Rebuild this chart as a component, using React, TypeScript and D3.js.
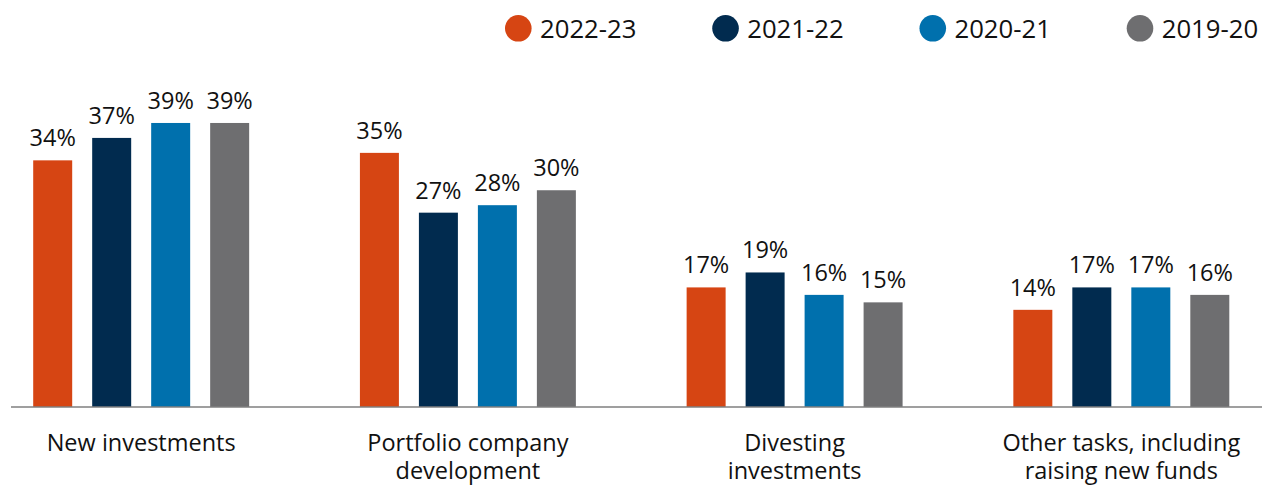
import React from "react";
import * as d3 from "d3";

const categories = [
  "New investments",
  "Portfolio company development",
  "Divesting investments",
  "Other tasks, including raising new funds",
];
const categoryLines = [
  ["New investments"],
  ["Portfolio company", "development"],
  ["Divesting", "investments"],
  ["Other tasks, including", "raising new funds"],
];
const seriesNames = ["2022-23", "2021-22", "2020-21", "2019-20"];
const seriesColors = ["#d64513", "#012b4f", "#0070ad", "#6e6e70"];
const v2022_23 = [34, 35, 17, 14];
const v2021_22 = [37, 27, 19, 17];
const v2020_21 = [39, 28, 16, 17];
const v2019_20 = [39, 30, 15, 16];
const seriesValues = [v2022_23, v2021_22, v2020_21, v2019_20];

const W = 1262;
const H = 489;
const FONT = "'Open Sans', 'Liberation Sans', Arial, sans-serif";

export default function App() {
  const baseY = 407;
  const y = d3.scaleLinear().domain([1, 40]).range([baseY, 115.5]);
  const x0 = d3
    .scaleBand<string>()
    .domain(categories)
    .range([33.2, 1229.3])
    .paddingInner(0.339)
    .paddingOuter(0);
  const x1 = d3
    .scaleBand<string>()
    .domain(seriesNames)
    .range([0, x0.bandwidth()])
    .paddingInner(0.339)
    .paddingOuter(0);
  const legendX = d3.scalePoint<string>().domain(seriesNames).range([518.3, 1140]);

  return (
    <svg
      width={W}
      height={H}
      style={{ position: "absolute", left: 0, top: 0, display: "block", background: "#fff" }}
      fontFamily={FONT}
    >
      {/* legend */}
      {seriesNames.map((s, i) => (
        <g key={s}>
          <circle cx={legendX(s)} cy={28.3} r={13.3} fill={seriesColors[i]} />
          <text x={(legendX(s) as number) + 21.7} y={38.3} fontSize={25.7} fill="#111">
            {s}
          </text>
        </g>
      ))}

      {/* bars */}
      {categories.map((c, ci) => (
        <g key={c} transform={`translate(${x0(c)},0)`}>
          {seriesNames.map((s, si) => {
            const v = seriesValues[si][ci];
            const top = y(v);
            const bx = x1(s) as number;
            return (
              <g key={s}>
                <rect x={bx} y={top} width={x1.bandwidth()} height={baseY - top} fill={seriesColors[si]} />
                <text
                  x={bx + x1.bandwidth() / 2}
                  y={top - 14}
                  textAnchor="middle"
                  fontSize={23.5}
                  fill="#111"
                >
                  {`${v}%`}
                </text>
              </g>
            );
          })}
        </g>
      ))}

      {/* axis */}
      <line x1={11} x2={W} y1={baseY} y2={baseY} stroke="#7f7f7f" strokeWidth={1.3} />

      {/* category labels */}
      {categories.map((c, ci) => (
        <text
          key={c}
          x={(x0(c) as number) + x0.bandwidth() / 2}
          textAnchor="middle"
          fontSize={23.5}
          fill="#111"
        >
          {categoryLines[ci].map((line, li) => (
            <tspan key={li} x={(x0(c) as number) + x0.bandwidth() / 2} y={451 + li * 28}>
              {line}
            </tspan>
          ))}
        </text>
      ))}
    </svg>
  );
}
